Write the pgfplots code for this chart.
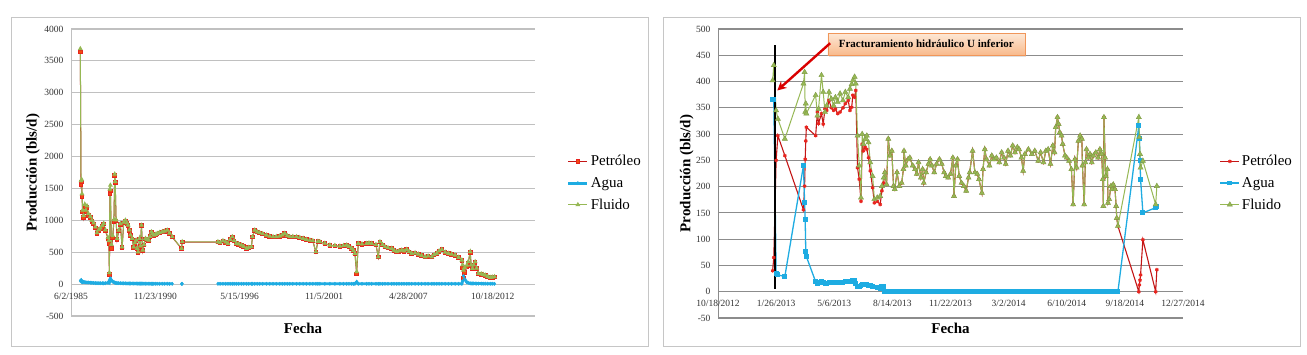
\documentclass[border=0pt]{standalone}
\usepackage{fontspec}
\setmainfont{Liberation Serif}
\usepackage{pgfplots}
\usepackage{pgfplotstable}
\pgfplotsset{compat=1.18}
\usetikzlibrary{shadows,arrows.meta}
\definecolor{petc}{RGB}{196,22,22}
\definecolor{petm}{RGB}{232,36,30}
\definecolor{aguac}{RGB}{30,172,226}
\definecolor{fluc}{RGB}{150,184,84}
\definecolor{gridl}{RGB}{192,192,192}
\definecolor{gridr}{RGB}{140,140,140}
\definecolor{boxtop}{RGB}{253,232,214}
\definecolor{boxbot}{RGB}{248,186,140}
\definecolor{boxdraw}{RGB}{240,150,90}

\pgfplotstableread{
date pet agua flu
31421 3640 50 3690
31438 1560 60 1620
31452 1600 40 1640
31461 1370 45 1415
31476 1130 30 1160
31499 1040 35 1075
31528 1220 30 1250
31552 1130 28 1158
31580 1200 25 1225
31611 1080 25 1105
31659 1040 22 1062
31694 980 20 1000
31737 940 18 958
31777 880 16 896
31818 790 15 805
31861 840 15 855
31896 865 14 879
31944 905 14 919
31975 940 12 952
32015 835 15 850
32079 710 20 730
32098 640 40 680
32110 150 30 180
32122 1420 70 1490
32134 1460 90 1550
32158 560 60 620
32188 720 40 760
32217 980 30 1010
32236 1700 25 1725
32248 1590 20 1610
32269 990 18 1008
32293 700 15 715
32331 830 15 845
32371 935 14 949
32412 570 12 582
32450 960 12 972
32490 990 12 1002
32526 948 10 958
32554 915 10 925
32585 840 10 850
32609 760 10 770
32649 708 10 718
32687 575 9 584
32716 640 9 649
32744 680 9 689
32771 552 8 560
32792 498 8 506
32823 708 8 716
32847 592 8 600
32870 915 8 923
32901 525 8 533
32930 612 7 619
32965 708 7 715
33001 692 7 699
33044 682 7 689
33072 742 6 748
33108 813 6 819
33132 783 6 789
33163 762 6 768
33203 773 6 779
33243 788 6 794
33298 803 6 809
33362 814 6 820
33417 823 6 829
33481 840 6 846
33536 795 5 800
33600 737 5 742
33700 nan nan nan
33821 556 4 560
33837 659 5 664
34200 nan nan nan
34683 658 5 663
34735 645 5 650
34802 675 5 680
34866 655 5 660
34921 633 5 638
34973 695 5 700
35025 737 5 742
35068 675 5 680
35120 633 5 638
35175 625 5 630
35239 607 5 612
35294 585 5 590
35358 555 5 560
35413 570 5 575
35477 580 5 585
35501 737 5 742
35555 842 5 847
35615 815 5 820
35674 800 5 805
35745 785 5 790
35833 764 5 769
35912 745 5 750
35990 737 5 742
36066 740 5 745
36149 748 5 753
36209 765 5 770
36268 790 5 795
36327 755 5 760
36387 737 5 742
36458 740 5 745
36546 737 5 742
36624 725 5 730
36703 712 5 717
36779 695 5 700
36862 685 5 690
36933 675 5 680
37005 502 5 507
37052 665 5 670
37100 659 5 664
37218 635 5 640
37337 607 5 612
37456 600 5 605
37575 591 5 596
37658 600 5 605
37734 607 5 612
37789 585 5 590
37853 555 5 560
37896 525 5 530
37931 477 5 482
37972 160 35 195
38010 633 5 638
38098 625 5 630
38209 633 5 638
38264 640 5 645
38328 633 5 638
38430 615 5 620
38485 423 5 428
38525 659 5 664
38585 615 5 620
38644 580 5 585
38715 565 5 570
38803 555 5 560
38858 525 5 530
38922 502 5 507
38977 515 5 520
39041 528 5 533
39095 515 5 520
39160 539 5 544
39214 505 5 510
39278 477 5 482
39357 485 5 490
39435 466 5 471
39511 445 5 450
39594 423 5 428
39666 435 5 440
39754 423 5 428
39808 455 5 460
39872 477 5 482
39927 515 5 520
39991 539 5 544
40070 495 5 500
40148 477 5 482
40224 465 5 470
40307 450 5 455
40390 415 5 420
40466 372 5 377
40485 250 50 300
40504 94 126 220
40533 180 80 260
40585 270 28 298
40616 330 20 350
40664 495 12 507
40687 290 10 300
40718 236 10 246
40747 290 10 300
40782 340 10 350
40818 242 8 250
40861 160 8 168
40925 152 8 160
40972 143 7 150
41020 134 7 141
41079 114 6 120
41139 99 6 105
41186 104 6 110
41241 110 5 115
}\leftdata

\pgfplotstableread{
date pet agua flu
41294 40 365 402
41296 65 365 431
41300 250 35 345
41303 297 32 329
41315 259 29 291
41347 156 240 396
41349 201 169 418
41350 252 137 342
41351 287 77 358
41352 313 67 339
41368 297 19 374
41371 342 16 335
41373 320 18 348
41378 339 19 412
41381 319 17 380
41384 348 16 342
41387 345 16 354
41391 364 17 380
41395 350 17 367
41399 345 17 354
41402 348 17 370
41406 339 18 361
41410 342 18 377
41415 350 18 364
41419 358 19 380
41424 364 19 370
41427 345 19 386
41430 351 20 395
41432 374 21 402
41435 370 21 409
41437 383 16 396
41440 236 10 297
41443 214 10 240
41446 172 12 179
41448 281 13 300
41450 268 13 281
41453 275 13 290
41456 271 13 297
41459 255 12 284
41462 230 11 246
41466 198 10 220
41469 169 9 176
41474 172 8 179
41479 166 6 182
41482 192 10 201
41485 207 10 217
41487 227 0 227
41490 204 0 204
41493 291 0 291
41496 259 0 259
41499 268 0 268
41502 201 0 201
41504 195 0 195
41508 227 0 227
41512 201 0 201
41516 207 0 207
41519 233 0 233
41520 268 0 268
41523 240 0 240
41527 252 0 252
41530 255 0 255
41535 240 0 240
41539 233 0 233
41542 224 0 224
41545 246 0 246
41549 217 0 217
41552 233 0 233
41554 207 0 207
41558 227 0 227
41562 243 0 243
41565 252 0 252
41568 240 0 240
41572 227 0 227
41576 243 0 243
41581 252 0 252
41585 243 0 243
41589 227 0 227
41592 220 0 220
41596 217 0 217
41600 224 0 224
41604 255 0 255
41606 182 0 182
41609 240 0 240
41612 252 0 252
41615 220 0 220
41619 207 0 207
41623 201 0 201
41627 192 0 192
41631 217 0 217
41633 227 0 227
41638 268 0 268
41642 227 0 227
41646 224 0 224
41649 214 0 214
41654 188 0 188
41656 233 0 233
41659 271 0 271
41662 252 0 252
41667 240 0 240
41671 259 0 259
41675 252 0 252
41679 255 0 255
41684 246 0 246
41688 265 0 265
41692 255 0 255
41695 243 0 243
41699 268 0 268
41703 259 0 259
41707 278 0 278
41711 265 0 265
41715 275 0 275
41718 271 0 271
41722 255 0 255
41725 230 0 230
41728 262 0 262
41734 271 0 271
41740 262 0 262
41745 268 0 268
41751 249 0 249
41755 265 0 265
41760 246 0 246
41764 268 0 268
41768 271 0 271
41772 243 0 243
41776 278 0 278
41779 265 0 265
41781 313 0 313
41784 332 0 332
41786 319 0 319
41788 303 0 303
41791 297 0 297
41793 281 0 281
41797 259 0 259
41800 255 0 255
41804 249 0 249
41808 233 0 233
41811 166 0 166
41814 252 0 252
41817 236 0 236
41820 287 0 287
41823 297 0 297
41826 291 0 291
41827 240 0 240
41830 166 0 166
41832 246 0 246
41834 271 0 271
41837 255 0 255
41840 262 0 262
41843 246 0 246
41846 259 0 259
41850 265 0 265
41854 255 0 255
41857 271 0 271
41860 262 0 262
41862 214 0 214
41863 163 0 163
41864 332 0 332
41866 255 0 255
41867 220 0 220
41870 233 0 233
41871 169 0 169
41873 176 0 176
41876 201 0 201
41878 195 0 195
41880 204 0 204
41883 195 0 195
41885 163 0 163
41886 140 0 140
41888 125 0 125
41924 0 316 332
41925 13 291 294
41926 22 250 262
41927 32 214 236
41931 99 150 249
41953 0 160 166
41955 42 163 201
}\rightdata

\pgfplotsset{
  chartbase/.style={
    scale only axis, anchor=south west,
    axis lines=left,
    axis line style={-, draw=gridl, line width=1pt},
    major tick length=0pt,
    ymajorgrids,
    scaled x ticks=false, scaled y ticks=false,
    /pgf/number format/.cd, 1000 sep={}, assume math mode=true, /pgfplots/.cd,
    tick label style={font=\fontsize{9.5}{10}\selectfont, text=black!80},
    yticklabel style={xshift=-4pt},
    xticklabel style={anchor=center},
    ylabel={Producción (bls/d)},
    xlabel={Fecha},
    ylabel style={font=\bfseries\fontsize{15}{15}\selectfont, anchor=center},
    xlabel style={font=\bfseries\fontsize{15}{15}\selectfont, anchor=center, at={(axis description cs:0.5,0)}},
    legend cell align=left,
    legend style={draw=none, fill=none, anchor=west, font=\fontsize{15}{16}\selectfont, row sep=6pt},
    legend image code/.code={\draw[#1, mark repeat=2, mark phase=2] plot coordinates {(0pt,0pt)(9.5pt,0pt)(19pt,0pt)};},
  }
}

\begin{document}
\begin{tikzpicture}
\useasboundingbox (0,0) rectangle (1307pt,355pt);
\fill[white] (0,0) rectangle (1307pt,355pt);
\draw[gray!45, line width=1pt] (11pt,8pt) rectangle (648pt,337pt);
\draw[gray!45, line width=1pt] (663pt,8pt) rectangle (1300pt,337pt);

\begin{axis}[chartbase,
  at={(71pt,39pt)}, width=464pt, height=287pt,
  xmin=31200, xmax=42200, ymin=-500, ymax=4000,
  ytick distance=500,
  grid style={gridl, line width=1.2pt},
  xtick={31200,33200,35200,37200,39200,41200},
  xticklabels={6/2/1985,11/23/1990,5/15/1996,11/5/2001,4/28/2007,10/18/2012},
  xticklabel style={yshift=20pt},
  ylabel style={at={(axis description cs:-0.082,0.5)}},
  xlabel style={yshift=-12pt},
  legend style={at={(axis description cs:1.062,0.463)}},
]
\addplot[petc, line width=1pt, mark=square*, mark size=1.8pt, mark options={draw=petm, fill=petm!55!orange}] table[x=date, y=pet] {\leftdata};
\addplot[aguac, line width=2.8pt, mark=diamond*, mark size=1.7pt, mark options={fill=aguac, line width=0.4pt}, unbounded coords=jump] table[x=date, y=agua] {\leftdata};
\addplot[fluc, line width=1pt, mark=triangle*, mark size=1.9pt, mark options={fill=fluc}] table[x=date, y=flu] {\leftdata};
\legend{Petróleo,Agua,Fluido}
\end{axis}

\begin{axis}[chartbase,
  at={(718pt,37pt)}, width=465pt, height=289pt,
  xmin=41200, xmax=42000, ymin=-50, ymax=500,
  ytick distance=50,
  axis line style={draw=gridr},
  grid style={gridr, line width=1.1pt},
  xtick={41200,41300,41400,41500,41600,41700,41800,41900,42000},
  xticklabels={10/18/2012,1/26/2013,5/6/2013,8/14/2013,11/22/2013,3/2/2014,6/10/2014,9/18/2014,12/27/2014},
  xticklabel style={yshift=15pt},
  ylabel style={at={(axis description cs:-0.067,0.5)}},
  xlabel style={yshift=-10pt},
  legend style={at={(axis description cs:1.072,0.467)}},
]
\addplot[petc, line width=1.1pt, mark=asterisk, mark size=1.8pt, mark options={petm, line width=1.1pt}] table[x=date, y=pet] {\rightdata};
\addplot[aguac, line width=1.3pt, mark=square*, mark size=1.8pt, mark options={fill=aguac}] table[x=date, y=agua] {\rightdata};
\addplot[fluc, line width=1pt, mark=triangle*, mark size=3pt, mark options={fill=fluc, draw=fluc!85!black, line width=0.4pt}] table[x=date, y=flu] {\rightdata};
\legend{Petróleo,Agua,Fluido}
\addplot[black, line width=2.6pt, forget plot] coordinates {(41298,6) (41298,469)};
\node[draw=boxdraw, line width=0.6pt, top color=boxtop, bottom color=boxbot, font=\bfseries\fontsize{11}{11}\selectfont, minimum width=197pt, minimum height=22pt, inner sep=2pt, drop shadow={opacity=0.25, shadow xshift=1.5pt, shadow yshift=-1.5pt}] at (rel axis cs:0.448,0.948) {Fracturamiento hidráulico U inferior};
\draw[-{Stealth[length=9pt,width=9pt]}, line width=2.4pt, red!85!black] (axis cs:41393,473) -- (axis cs:41302,383);
\end{axis}
\end{tikzpicture}
\end{document}
